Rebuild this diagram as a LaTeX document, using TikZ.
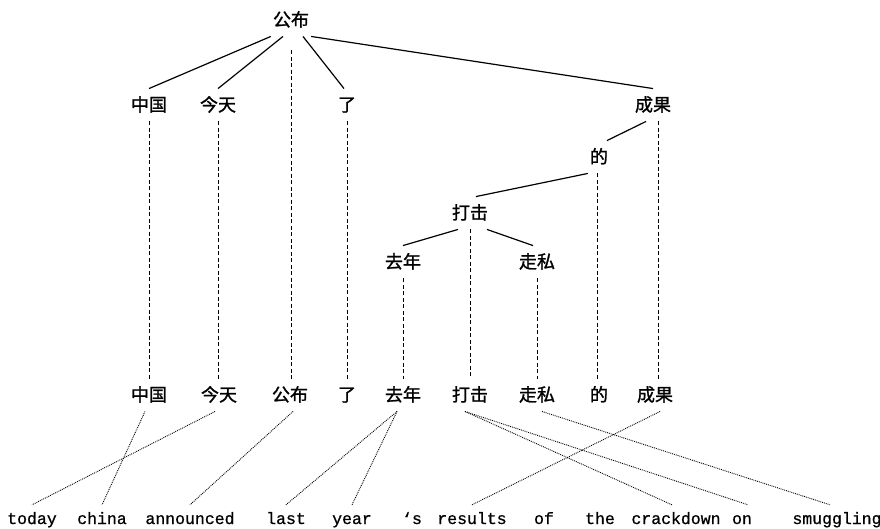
\documentclass[tikz,border=0pt]{standalone}
\usepackage{fontspec}
\newfontfamily\cjk{Noto Sans CJK SC}[FakeBold=1.3]
\newfontfamily\latinmono{Liberation Mono}[FakeBold=0.8]
\begin{document}
\begin{tikzpicture}[x=1pt,y=-1pt,
  zh/.style={font=\cjk\fontsize{18}{18}\selectfont, inner xsep=2pt, inner ysep=8pt,
             text height=14.5pt, text depth=2pt},
  en/.style={font=\latinmono\fontsize{16.5}{16.5}\selectfont, anchor=base,
             inner xsep=1pt, inner ysep=8pt, text height=11pt, text depth=3pt},
  tree/.style={line width=1.2pt},
  proj/.style={line width=0.8pt, dash pattern=on 4pt off 2.5pt},
  align/.style={line width=0.9pt, densely dotted}]
\useasboundingbox (0,0) rectangle (880,528);

% dependency tree
\node[zh] (t-gongbu)   at (291,20)  {公布};
\node[zh] (t-zhongguo) at (149,105) {中国};
\node[zh] (t-jintian)  at (218,105) {今天};
\node[zh] (t-le)       at (347,105) {了};
\node[zh] (t-chengguo) at (653,105) {成果};
\node[zh] (t-de)       at (599,157) {的};
\node[zh] (t-daji)     at (470,213) {打击};
\node[zh] (t-qunian)   at (403,262) {去年};
\node[zh] (t-zousi)    at (537,262) {走私};

% word order
\node[zh] (b-zhongguo) at (149,395) {中国};
\node[zh] (b-jintian)  at (219,395) {今天};
\node[zh] (b-gongbu)   at (290,395) {公布};
\node[zh] (b-le)       at (347,395) {了};
\node[zh] (b-qunian)   at (403,395) {去年};
\node[zh] (b-daji)     at (470,395) {打击};
\node[zh] (b-zousi)    at (537,395) {走私};
\node[zh] (b-de)       at (599,395) {的};
\node[zh] (b-chengguo) at (655,395) {成果};

% English sentence
\node[en] (e-today)     at (32,524)  {today};
\node[en] (e-china)     at (102,524) {china};
\node[en] (e-announced) at (190,524) {announced};
\node[en] (e-last)      at (286,524) {last};
\node[en] (e-year)      at (352,524) {year};
\node[en] (e-s)         at (412,524) {‘s};
\node[en] (e-results)   at (472,524) {results};
\node[en] (e-of)        at (544,524) {of};
\node[en] (e-the)       at (600,524) {the};
\node[en] (e-crackdown) at (676,524) {crackdown};
\node[en] (e-on)        at (742,524) {on};
\node[en] (e-smuggling) at (837,524) {smuggling};

% head-dependent arcs
\draw[tree] (t-gongbu.south west) -- (t-zhongguo.north);
\draw[tree] ([xshift=-8pt]t-gongbu.south) -- (t-jintian.north);
\draw[tree] ([xshift=12pt]t-gongbu.south) -- ([xshift=-3pt]t-le.north);
\draw[tree] (t-gongbu.south east) -- (t-chengguo.north);
\draw[tree] ([xshift=-7pt]t-chengguo.south) -- ([xshift=8pt]t-de.north);
\draw[tree] (t-de.south west) -- ([xshift=6pt]t-daji.north);
\draw[tree] ([xshift=-12pt]t-daji.south) -- (t-qunian.north);
\draw[tree] ([xshift=17pt]t-daji.south) -- ([xshift=-4pt]t-zousi.north);

% projection lines
\draw[proj] (t-zhongguo.south) -- (t-zhongguo.south |- b-zhongguo.north);
\draw[proj] (t-jintian.south) -- (t-jintian.south |- b-jintian.north);
\draw[proj] ([yshift=-14pt]t-gongbu.south) -- (t-gongbu.south |- b-gongbu.north);
\draw[proj] (t-le.south) -- (t-le.south |- b-le.north);
\draw[proj] ([xshift=5pt]t-chengguo.south) -- ([xshift=5pt]t-chengguo.south |- b-chengguo.north);
\draw[proj] ([xshift=-2pt]t-de.south) -- ([xshift=-2pt]t-de.south |- b-de.north);
\draw[proj] (t-daji.south) -- (t-daji.south |- b-daji.north);
\draw[proj] (t-qunian.south) -- (t-qunian.south |- b-qunian.north);
\draw[proj] (t-zousi.south) -- (t-zousi.south |- b-zousi.north);

% word alignment
\draw[align] ([xshift=-4pt]b-zhongguo.south) -- (e-china.north);
\draw[align] ([xshift=-4pt]b-jintian.south) -- (e-today.north);
\draw[align] ([xshift=3pt]b-gongbu.south) -- (e-announced.north);
\draw[align] ([xshift=-6pt]b-qunian.south) -- (e-last.north);
\draw[align] ([xshift=-6pt]b-qunian.south) -- (e-year.north);
\draw[align] ([xshift=-5pt]b-daji.south) -- ([xshift=-4pt]e-crackdown.north);
\draw[align] ([xshift=-5pt]b-daji.south) -- ([xshift=6pt]e-on.north);
\draw[align] ([xshift=5pt]b-zousi.south) -- ([xshift=-7pt]e-smuggling.north);
\draw[align] ([xshift=5pt]b-chengguo.south) -- (e-results.north);
\end{tikzpicture}
\end{document}
